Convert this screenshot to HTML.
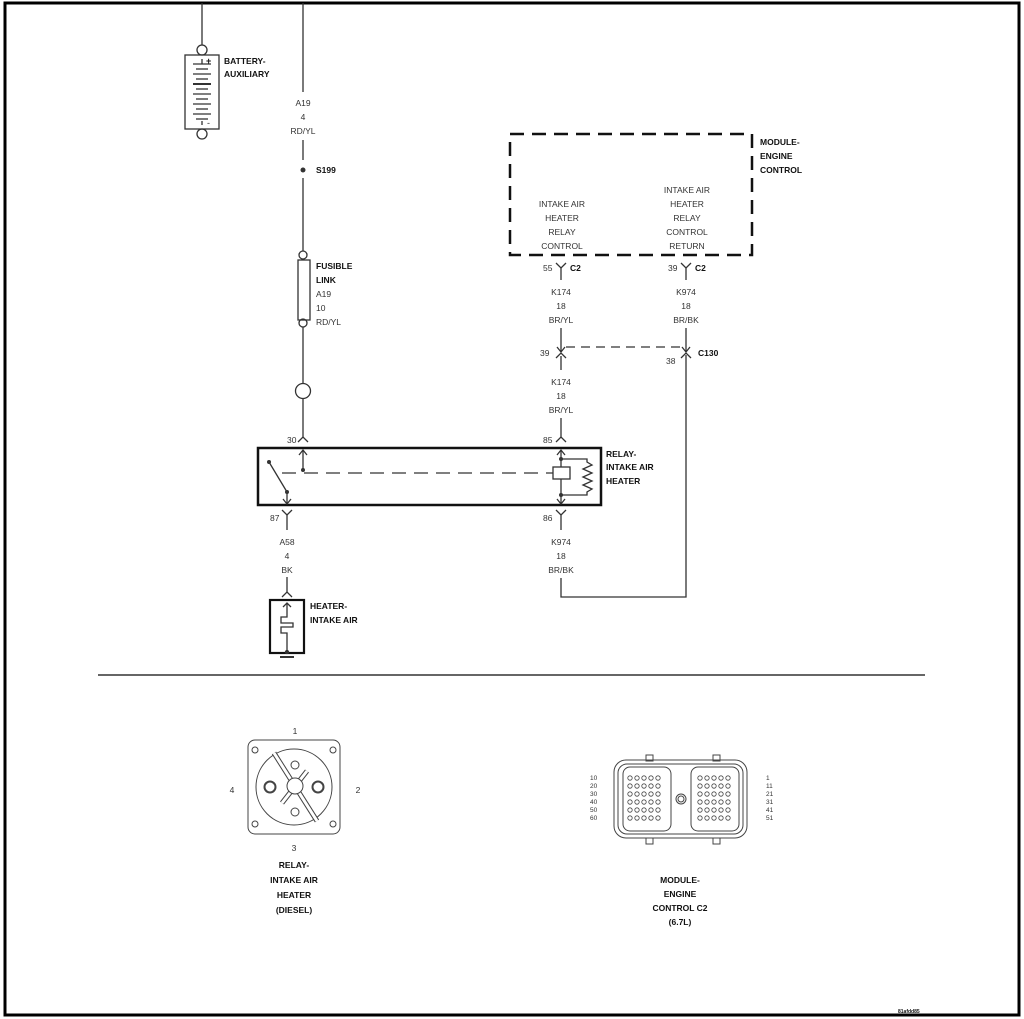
<!DOCTYPE html>
<html><head><meta charset="utf-8"><style>
html,body{margin:0;padding:0;background:#fff}
svg{display:block}
text{font-family:"Liberation Sans",sans-serif;font-size:8.5px;fill:#333}
.b{font-weight:bold;fill:#111}
.c{text-anchor:middle}
.s{font-size:6.5px}
</style></head><body>
<svg width="1024" height="1019" viewBox="0 0 1024 1019" xmlns="http://www.w3.org/2000/svg">
<rect x="5" y="3" width="1014" height="1012" fill="none" stroke="#000" stroke-width="3"/>
<g fill="none" stroke="#333" stroke-width="1.3">
<line x1="202" y1="3" x2="202" y2="45"/>
<circle cx="202" cy="50" r="5"/>
<rect x="185" y="55" width="34" height="74"/>
<circle cx="202" cy="134" r="5"/>
<line x1="202" y1="59" x2="202" y2="64"/>
<line x1="202" y1="121" x2="202" y2="125"/>
<line x1="193" y1="64" x2="211" y2="64"/><line x1="196" y1="69" x2="208" y2="69"/>
<line x1="193" y1="74" x2="211" y2="74"/><line x1="196" y1="79" x2="208" y2="79"/>
<line x1="193" y1="84" x2="211" y2="84" stroke-width="2"/><line x1="196" y1="89" x2="208" y2="89"/>
<line x1="193" y1="94" x2="211" y2="94"/><line x1="196" y1="99" x2="208" y2="99"/>
<line x1="193" y1="104" x2="211" y2="104"/><line x1="196" y1="109" x2="208" y2="109"/>
<line x1="193" y1="114" x2="211" y2="114"/><line x1="196" y1="119" x2="208" y2="119"/>
<line x1="303" y1="3" x2="303" y2="92"/>
<line x1="303" y1="140" x2="303" y2="160"/>
<line x1="303" y1="178" x2="303" y2="251"/>
<circle cx="303" cy="255" r="4"/>
<rect x="298" y="260" width="12" height="60"/>
<circle cx="303" cy="323" r="4"/>
<line x1="303" y1="327" x2="303" y2="383"/>
<circle cx="303" cy="391" r="7.5"/>
<line x1="303" y1="399" x2="303" y2="437"/>
<polyline points="298,442 303,437 308,442"/>
<rect x="258" y="448" width="343" height="57" stroke="#111" stroke-width="2.5"/>
<line x1="303" y1="450" x2="303" y2="470"/><polyline points="299,455 303,450 307,455"/>
<line x1="269" y1="462" x2="287" y2="492"/>
<line x1="287" y1="492" x2="287" y2="504"/><polyline points="283,499 287,504 291,499"/>
<line x1="282" y1="473" x2="553" y2="473" stroke-dasharray="14,8"/>
<line x1="561" y1="450" x2="561" y2="504"/>
<polyline points="557,455 561,450 565,455"/><polyline points="557,499 561,504 565,499"/>
<rect x="553" y="467" width="17" height="12" fill="#fff"/>
<polyline points="561,459 587,459 587,462 592,465 583,469 592,473 583,477 592,481 583,485 592,489 587,492 587,495 561,495"/>
<line x1="561" y1="418" x2="561" y2="437"/><polyline points="556,442 561,437 566,442"/>
<polyline points="282,510 287,515 292,510"/><line x1="287" y1="515" x2="287" y2="530"/>
<line x1="287" y1="577" x2="287" y2="592"/><polyline points="282,597 287,592 292,597"/>
<rect x="270" y="600" width="34" height="53" stroke="#111" stroke-width="2.2"/>
<line x1="287" y1="603" x2="287" y2="613"/><polyline points="283,607 287,603 291,607"/>
<polyline points="287,613 287,617 281,617 281,623 293,623 293,627 281,627 281,633 287,633 287,652"/>
<circle cx="287" cy="652" r="1.5" fill="#333"/>
<line x1="280" y1="657" x2="294" y2="657" stroke-width="2"/>
<polyline points="556,510 561,515 566,510"/><line x1="561" y1="515" x2="561" y2="530"/>
<polyline points="561,578 561,597 686,597 686,355"/>
<rect x="510" y="134" width="242" height="121" stroke="#111" stroke-width="2.5" stroke-dasharray="14,8"/>
<polyline points="556,263 561,268 566,263"/><line x1="561" y1="268" x2="561" y2="280"/>
<polyline points="681,263 686,268 691,263"/><line x1="686" y1="268" x2="686" y2="280"/>
<line x1="561" y1="328" x2="561" y2="352"/><polyline points="557,347 561,352 565,347"/>
<polyline points="556,358 561,353 566,358"/><line x1="561" y1="356" x2="561" y2="370"/>
<line x1="686" y1="328" x2="686" y2="352"/><polyline points="682,347 686,352 690,347"/>
<polyline points="681,358 686,353 691,358"/>
<line x1="566" y1="347" x2="682" y2="347" stroke-dasharray="9,6"/>
<line x1="98" y1="675" x2="925" y2="675" stroke-width="1.5"/>
</g>
<g fill="#333">
<circle cx="269" cy="462" r="2"/><circle cx="287" cy="492" r="2"/><circle cx="303" cy="470" r="2"/>
<circle cx="561" cy="459" r="2"/><circle cx="561" cy="495" r="2"/>
<circle cx="303" cy="170" r="2.5"/>
</g>
<text x="206" y="64" style="font-size:9px" class="b">+</text>
<text x="207" y="126" style="font-size:9px">-</text>
<text x="224" y="64" class="b">BATTERY-</text>
<text x="224" y="77" class="b">AUXILIARY</text>
<text x="303" y="106" class="c">A19</text><text x="303" y="120" class="c">4</text><text x="303" y="134" class="c">RD/YL</text>
<text x="316" y="173" class="b">S199</text>
<text x="316" y="269" class="b">FUSIBLE</text><text x="316" y="283" class="b">LINK</text>
<text x="316" y="297">A19</text><text x="316" y="311">10</text><text x="316" y="325">RD/YL</text>
<text x="287" y="443">30</text><text x="543" y="443">85</text>
<text x="606" y="457" class="b">RELAY-</text><text x="606" y="470" class="b">INTAKE AIR</text><text x="606" y="484" class="b">HEATER</text>
<text x="270" y="521">87</text><text x="543" y="521">86</text>
<text x="287" y="545" class="c">A58</text><text x="287" y="559" class="c">4</text><text x="287" y="573" class="c">BK</text>
<text x="310" y="609" class="b">HEATER-</text><text x="310" y="623" class="b">INTAKE AIR</text>
<text x="561" y="545" class="c">K974</text><text x="561" y="559" class="c">18</text><text x="561" y="573" class="c">BR/BK</text>
<text x="760" y="145" class="b">MODULE-</text><text x="760" y="159" class="b">ENGINE</text><text x="760" y="173" class="b">CONTROL</text>
<text x="562" y="207" class="c">INTAKE AIR</text><text x="562" y="221" class="c">HEATER</text><text x="562" y="235" class="c">RELAY</text><text x="562" y="249" class="c">CONTROL</text>
<text x="687" y="193" class="c">INTAKE AIR</text><text x="687" y="207" class="c">HEATER</text><text x="687" y="221" class="c">RELAY</text><text x="687" y="235" class="c">CONTROL</text><text x="687" y="249" class="c">RETURN</text>
<text x="543" y="271">55</text><text x="570" y="271" class="b">C2</text>
<text x="668" y="271">39</text><text x="695" y="271" class="b">C2</text>
<text x="561" y="295" class="c">K174</text><text x="561" y="309" class="c">18</text><text x="561" y="323" class="c">BR/YL</text>
<text x="686" y="295" class="c">K974</text><text x="686" y="309" class="c">18</text><text x="686" y="323" class="c">BR/BK</text>
<text x="540" y="356">39</text><text x="666" y="364">38</text><text x="698" y="356" class="b">C130</text>
<text x="561" y="385" class="c">K174</text><text x="561" y="399" class="c">18</text><text x="561" y="413" class="c">BR/YL</text>
<g fill="none" stroke="#444" stroke-width="1">
<rect x="248" y="740" width="92" height="94" rx="7"/>
<circle cx="255" cy="750" r="3"/><circle cx="333" cy="750" r="3"/><circle cx="255" cy="824" r="3"/><circle cx="333" cy="824" r="3"/>
<circle cx="294" cy="787" r="38"/>
<circle cx="295" cy="765" r="4"/><circle cx="295" cy="812" r="4"/>
<circle cx="270" cy="787" r="5.5" stroke-width="2"/><circle cx="318" cy="787" r="5.5" stroke-width="2"/>
<line x1="274" y1="753" x2="317" y2="821" stroke-width="5" stroke="#444"/>
<line x1="274" y1="753" x2="317" y2="821" stroke-width="3" stroke="#fff"/>
<line x1="282" y1="803" x2="307" y2="771" stroke-width="5" stroke="#444"/>
<line x1="282" y1="803" x2="307" y2="771" stroke-width="3" stroke="#fff"/>
<circle cx="295" cy="786" r="8" fill="#fff"/>
</g>
<text x="295" y="734" class="c">1</text><text x="358" y="793" class="c">2</text><text x="294" y="851" class="c">3</text><text x="232" y="793" class="c">4</text>
<text x="294" y="868" class="c b">RELAY-</text><text x="294" y="883" class="c b">INTAKE AIR</text><text x="294" y="898" class="c b">HEATER</text><text x="294" y="913" class="c b">(DIESEL)</text>
<g fill="none" stroke="#444" stroke-width="1">
<rect x="646" y="755" width="7" height="6"/><rect x="713" y="755" width="7" height="6"/>
<rect x="646" y="838" width="7" height="6"/><rect x="713" y="838" width="7" height="6"/>
<rect x="614" y="760" width="133" height="78" rx="12"/>
<rect x="618" y="764" width="125" height="70" rx="9"/>
<rect x="623" y="767" width="48" height="64" rx="7"/>
<rect x="691" y="767" width="48" height="64" rx="7"/>
<circle cx="681" cy="799" r="5"/><circle cx="681" cy="799" r="3"/>
</g>
<g fill="none" stroke="#444" stroke-width="0.8">
<g id="pins">
<circle cx="630" cy="778" r="2.2"/><circle cx="637" cy="778" r="2.2"/><circle cx="644" cy="778" r="2.2"/><circle cx="651" cy="778" r="2.2"/><circle cx="658" cy="778" r="2.2"/>
<circle cx="630" cy="786" r="2.2"/><circle cx="637" cy="786" r="2.2"/><circle cx="644" cy="786" r="2.2"/><circle cx="651" cy="786" r="2.2"/><circle cx="658" cy="786" r="2.2"/>
<circle cx="630" cy="794" r="2.2"/><circle cx="637" cy="794" r="2.2"/><circle cx="644" cy="794" r="2.2"/><circle cx="651" cy="794" r="2.2"/><circle cx="658" cy="794" r="2.2"/>
<circle cx="630" cy="802" r="2.2"/><circle cx="637" cy="802" r="2.2"/><circle cx="644" cy="802" r="2.2"/><circle cx="651" cy="802" r="2.2"/><circle cx="658" cy="802" r="2.2"/>
<circle cx="630" cy="810" r="2.2"/><circle cx="637" cy="810" r="2.2"/><circle cx="644" cy="810" r="2.2"/><circle cx="651" cy="810" r="2.2"/><circle cx="658" cy="810" r="2.2"/>
<circle cx="630" cy="818" r="2.2"/><circle cx="637" cy="818" r="2.2"/><circle cx="644" cy="818" r="2.2"/><circle cx="651" cy="818" r="2.2"/><circle cx="658" cy="818" r="2.2"/>
</g>
<use href="#pins" x="70"/>
</g>
<text x="590" y="780" class="s">10</text><text x="590" y="788" class="s">20</text><text x="590" y="796" class="s">30</text><text x="590" y="804" class="s">40</text><text x="590" y="812" class="s">50</text><text x="590" y="820" class="s">60</text>
<text x="766" y="780" class="s">1</text><text x="766" y="788" class="s">11</text><text x="766" y="796" class="s">21</text><text x="766" y="804" class="s">31</text><text x="766" y="812" class="s">41</text><text x="766" y="820" class="s">51</text>
<text x="680" y="883" class="c b">MODULE-</text><text x="680" y="897" class="c b">ENGINE</text><text x="680" y="911" class="c b">CONTROL C2</text><text x="680" y="925" class="c b">(6.7L)</text>
<text x="898" y="1013" style="font-size:5px" class="b">81afdd85</text>
</svg>
</body></html>
